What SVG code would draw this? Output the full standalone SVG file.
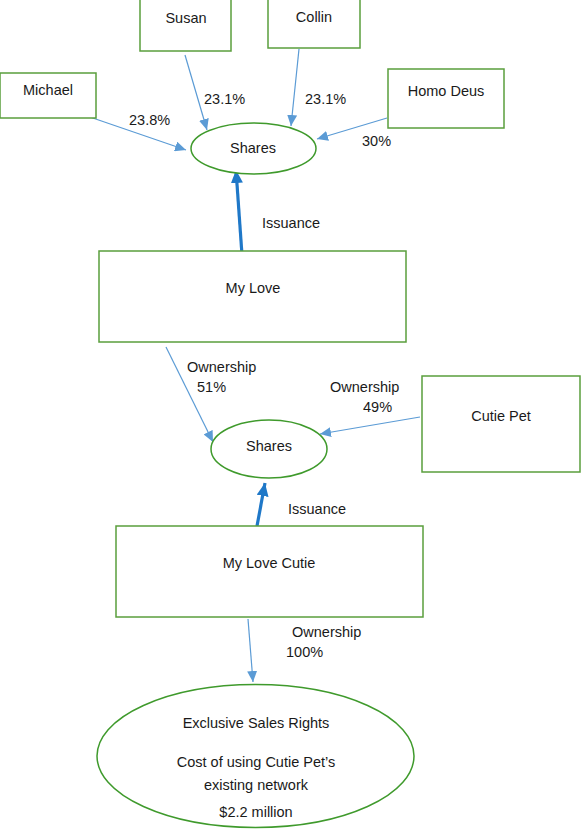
<svg xmlns="http://www.w3.org/2000/svg" width="581" height="829" viewBox="0 0 581 829">
<style>
text{font-family:"Liberation Sans",Arial,sans-serif;font-size:14.5px;fill:#1a1a1a}
.c{text-anchor:middle}
.box{fill:#fff;stroke:#5a9e3c;stroke-width:1.5}
.ell{fill:#fff;stroke:#3f9a2c;stroke-width:1.5}
.thin{stroke:#5b9bd5;stroke-width:1.2;fill:none}
.thick{stroke:#1f78c8;stroke-width:3.2;fill:none}
</style>
<defs>
<marker id="ah" markerUnits="userSpaceOnUse" markerWidth="12" markerHeight="10" refX="11" refY="5" orient="auto">
<path d="M0,0 L11,5 L0,10 Z" fill="#5b9bd5"/>
</marker>
<marker id="ahT" markerUnits="userSpaceOnUse" markerWidth="14" markerHeight="12" refX="13" refY="6" orient="auto">
<path d="M0,0 L13,6 L0,12 Z" fill="#1f78c8"/>
</marker>
</defs>
<g id="connectors">
<line class="thin" x1="84" y1="115" x2="186" y2="150" marker-end="url(#ah)"/>
<line class="thin" x1="185" y1="55" x2="207" y2="130" marker-end="url(#ah)"/>
<line class="thin" x1="299" y1="49" x2="291" y2="126" marker-end="url(#ah)"/>
<line class="thin" x1="387" y1="118" x2="317" y2="139" marker-end="url(#ah)"/>
<line class="thick" x1="242" y1="255" x2="236" y2="170" marker-end="url(#ahT)"/>
<line class="thin" x1="166" y1="347" x2="213" y2="442" marker-end="url(#ah)"/>
<line class="thin" x1="420" y1="417" x2="320" y2="434" marker-end="url(#ah)"/>
<line class="thick" x1="257" y1="526" x2="265" y2="483" marker-end="url(#ahT)"/>
<line class="thin" x1="248" y1="619" x2="253" y2="682" marker-end="url(#ah)"/>
<text x="129" y="125">23.8%</text>
<text x="204" y="104">23.1%</text>
<text x="305" y="104">23.1%</text>
<text x="362" y="146">30%</text>
<text x="262" y="228">Issuance</text>
<text x="187" y="372">Ownership</text>
<text x="197" y="392">51%</text>
<text x="330" y="392">Ownership</text>
<text x="363" y="412">49%</text>
<text x="288" y="514">Issuance</text>
<text x="292" y="637">Ownership</text>
<text x="286" y="657">100%</text>
</g>
<g id="michael"><rect class="box" x="0" y="73" width="96" height="45"/><text class="c" x="48" y="95">Michael</text></g>
<g id="susan"><rect class="box" x="140" y="-2" width="91" height="53"/><text class="c" x="186" y="23">Susan</text></g>
<g id="collin"><rect class="box" x="268" y="-2" width="92" height="50"/><text class="c" x="314" y="22">Collin</text></g>
<g id="homodeus"><rect class="box" x="388" y="69" width="116" height="59"/><text class="c" x="446" y="96">Homo Deus</text></g>
<g id="shares1"><ellipse class="ell" cx="253.5" cy="148.5" rx="62.5" ry="25.5"/><text class="c" x="253" y="153">Shares</text></g>
<g id="mylove"><rect class="box" x="99" y="251" width="307" height="91"/><text class="c" x="253" y="293">My Love</text></g>
<g id="shares2"><ellipse class="ell" cx="269" cy="449" rx="58" ry="29"/><text class="c" x="269" y="451">Shares</text></g>
<g id="cutiepet"><rect class="box" x="422" y="376" width="158" height="96"/><text class="c" x="501" y="421">Cutie Pet</text></g>
<g id="mylovecutie"><rect class="box" x="116" y="526" width="307" height="91"/><text class="c" x="269" y="568">My Love Cutie</text></g>
<g id="rights"><ellipse class="ell" cx="255.5" cy="756" rx="158.5" ry="71.5"/>
<text class="c" x="256" y="728">Exclusive Sales Rights</text>
<text class="c" x="256" y="767">Cost of using Cutie Pet’s</text>
<text class="c" x="256" y="790">existing network</text>
<text class="c" x="256" y="817">$2.2 million</text>
</g>
</svg>
